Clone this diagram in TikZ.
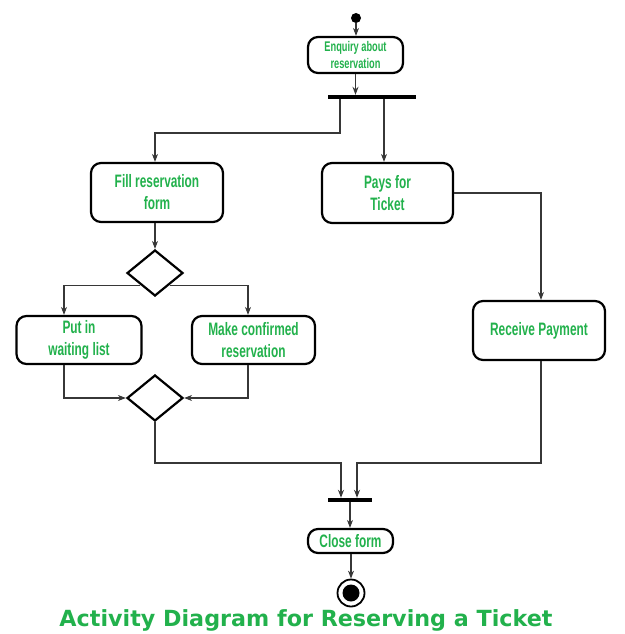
\documentclass[tikz,border=0pt]{standalone}
\usepackage{fontspec}
\usetikzlibrary{shapes.geometric,arrows.meta}
\newfontfamily\nodefont[FakeStretch=0.66]{Liberation Sans Bold}
\newfontfamily\titlefont{DejaVu Sans Bold}
\definecolor{txtgreen}{RGB}{34,177,76}
\definecolor{linegray}{RGB}{55,55,55}
\tikzset{
  act/.style={draw=black, line width=2.2pt, rounded corners=10pt, align=center,
    text=txtgreen, font=\nodefont\fontsize{18}{22}\selectfont, inner sep=0pt},
  bar/.style={fill=black, draw=none, minimum height=4pt, inner sep=0pt},
  dec/.style={diamond, draw=black, line width=2.2pt, minimum width=56pt, minimum height=46pt, inner sep=0pt},
  arr/.style={draw=linegray, line width=1.1pt, -{Stealth[length=8pt,width=6pt]}},
  ln/.style={draw=linegray, line width=1.1pt}
}
\begin{document}
\begin{tikzpicture}[x=1pt,y=-1pt]
\useasboundingbox (0,0) rectangle (624,634);
\node[circle, fill=black, minimum size=10pt, inner sep=0pt] (init) at (356,18) {};
\node[act, minimum width=95pt, minimum height=36pt, font=\nodefont\fontsize{14}{17}\selectfont] (enq) at (355.5,55) {Enquiry about\\reservation};
\node[bar, minimum width=88pt] (fork) at (372,97) {};
\node[act, minimum width=132pt, minimum height=59pt] (fill) at (157,192.5) {Fill reservation\\form};
\node[act, minimum width=131pt, minimum height=60pt] (pays) at (387.5,193) {Pays for\\Ticket};
\node[dec] (d1) at (155,273) {};
\node[act, minimum width=125pt, minimum height=48pt] (put) at (79,340) {Put in\\waiting list};
\node[act, minimum width=123pt, minimum height=48pt] (make) at (253.5,340) {Make confirmed\\reservation};
\node[dec] (d2) at (155,398) {};
\node[act, minimum width=132pt, minimum height=59pt] (recv) at (539,330.5) {Receive Payment};
\node[bar, minimum width=44pt] (join) at (350,500) {};
\node[act, minimum width=85pt, minimum height=24pt] (close) at (350.5,541) {Close form};
\node[circle, draw=black, line width=1.8pt, minimum size=27pt, inner sep=0pt] (final) at (351,593) {};
\node[circle, fill=black, minimum size=17pt, inner sep=0pt] (finalin) at (351,593) {};
\coordinate (t1) at (340,133);
\coordinate (m1) at (341,463);
\coordinate (m2) at (357,463);

\draw[arr] (init) -- (enq.north -| init);
\draw[arr] (enq.south) -- (enq.south |- fork.north);
\draw[arr] (fork.south -| t1) -- (t1) -| ([xshift=-2pt]fill.north);
\draw[arr] ([xshift=-3.5pt]pays.north |- fork.south) -- ([xshift=-3.5pt]pays.north);
\draw[arr] (fill.south -| d1) -- (d1.north);
\draw[arr] (d1.south west) -| ([xshift=-15pt]put.north);
\draw[arr] (d1.south east) -| ([xshift=-5.5pt]make.north);
\draw[arr] ([xshift=-15pt]put.south) |- (d2.west);
\draw[arr] ([xshift=-5.5pt]make.south) |- (d2.east);
\draw[arr] (pays.east) -| ([xshift=2pt]recv.north);
\draw[arr] (d2.south) |- (m1) -- (m1 |- join.north);
\draw[arr] ([xshift=2pt]recv.south) |- (m2) -- (m2 |- join.north);
\draw[arr] (join.south) -- (close.north -| join);
\draw[arr] (close.south -| final) -- (final.north);

\node[text=txtgreen, inner sep=0pt] (title) at (306,620) {\resizebox{493pt}{!}{\titlefont Activity Diagram for Reserving a Ticket}};
\end{tikzpicture}
\end{document}
